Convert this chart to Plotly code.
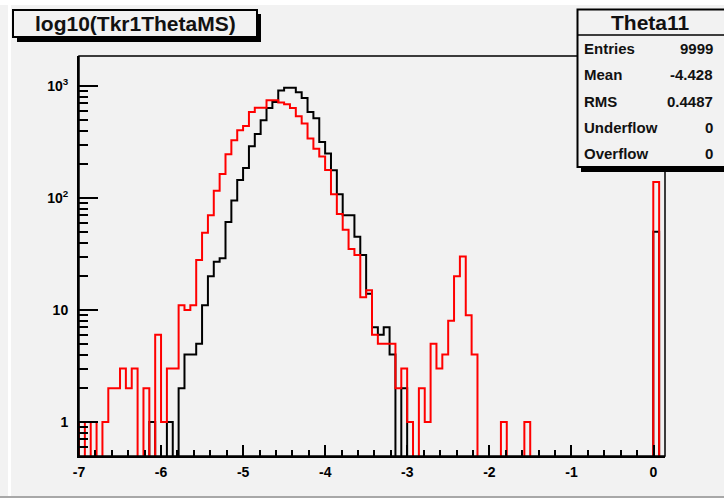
import numpy as np
import plotly.graph_objects as go

# ---------------- data ----------------
hist_title = "log10(Tkr1ThetaMS)"
x_min, x_max, n_bins = -7.0, 0.14, 100

black_counts = [0] * 12 + [1, 0, 0, 1, 0, 2, 4, 4, 5, 11, 20, 27, 29, 61, 95, 145, 185, 290,
                           373, 494, 635, 720, 910, 965, 965, 880, 780, 586, 515, 316, 250, 177,
                           108, 70, 70, 45, 31, 14, 7, 6, 7, 4, 0, 2] + [0] * 42 + [50, 0]

red_counts = [1, 0, 1, 0, 1, 2, 2, 3, 2, 3, 0, 2, 0, 6, 1, 3, 3, 11, 10, 11, 28, 49, 70, 116,
              164, 246, 328, 402, 440, 586, 638, 638, 745, 745, 712, 688, 635, 537, 462, 340,
              275, 235, 178, 108, 72, 52, 35, 31, 13, 15, 6, 5, 5, 5, 2, 3, 1, 0, 2, 1, 5, 3,
              4, 8, 20, 30, 9, 4] + [0] * 4 + [1] + [0] * 3 + [1] + [0] * 21 + [139, 0]

x_tick_values = [-7, -6, -5, -4, -3, -2, -1, 0]
x_tick_labels = ["-7", "-6", "-5", "-4", "-3", "-2", "-1", "0"]
y_tick_values = [1, 10, 100, 1000]
y_tick_labels = ["1", "10", "10<sup>2</sup>", "10<sup>3</sup>"]

stats_title = "Theta11"
stats_labels = ["Entries", "Mean", "RMS", "Underflow", "Overflow"]
stats_values = ["9999", "-4.428", "0.4487", "0", "0"]

# ---------------- geometry ----------------
W, H = 724, 503
L, R, T, B = 79, 665, 56, 456   # plot area in pixels
BG = "#f2f2f2"
FONT = "Liberation Sans"


def px(x):
    return (x - L) / (R - L)


def py(y):
    return (B - y) / (B - T)


edges = np.linspace(x_min, x_max, n_bins + 1)
floor = 1e-3


def step_xy(counts):
    c = [v if v > 0 else floor for v in counts]
    xs = [edges[0]] + list(edges[:-1]) + [edges[-1]]
    ys = [floor] + c + [floor]
    return xs, ys


fig = go.Figure()
for counts, color in [(black_counts, "black"), (red_counts, "red")]:
    xs, ys = step_xy(counts)
    fig.add_trace(go.Scatter(x=xs, y=ys, mode="lines", line=dict(color=color, width=2, shape="hv"),
                             hoverinfo="skip", showlegend=False))

x_minor = [round(v, 2) for v in np.arange(-7, x_max, 0.2) if abs(v - round(v)) > 1e-6]
y_minor = [m * 10 ** e for e in range(-1, 3) for m in range(2, 10) if 0.5 < m * 10 ** e < 1900]

tickfont = dict(family=FONT, size=14, color="black", weight="bold")

fig.update_layout(
    width=W, height=H, autosize=False,
    margin=dict(l=L, r=W - R, t=T, b=H - B),
    paper_bgcolor=BG, plot_bgcolor=BG,
    showlegend=False,
    xaxis=dict(range=[x_min, x_max], tickmode="array", tickvals=x_tick_values, ticktext=x_tick_labels,
               ticks="inside", ticklen=11, tickwidth=1.5, tickcolor="black",
               showline=True, linewidth=2, linecolor="black", showgrid=False, zeroline=False,
               tickfont=tickfont, ticklabelstandoff=2,
               minor=dict(tickmode="array", tickvals=x_minor, ticks="inside", ticklen=6,
                          tickwidth=1.5, tickcolor="black", showgrid=False)),
    yaxis=dict(type="log", range=[-0.3036, 3.268], tickmode="array", tickvals=y_tick_values,
               ticktext=y_tick_labels, ticks="inside", ticklen=19, tickwidth=1.5, tickcolor="black",
               showline=True, linewidth=2, linecolor="black", showgrid=False, zeroline=False,
               tickfont=tickfont, ticklabelstandoff=6,
               minor=dict(tickmode="array", tickvals=y_minor, ticks="inside", ticklen=9,
                          tickwidth=1.5, tickcolor="black", showgrid=False)),
)

shapes = []
# window edges
shapes.append(dict(type="rect", xref="paper", yref="paper", x0=px(-5), x1=px(W + 5), y0=py(-5), y1=py(5),
                   fillcolor="white", line=dict(width=0), layer="above"))
shapes.append(dict(type="rect", xref="paper", yref="paper", x0=px(8), x1=px(11), y0=py(5), y1=py(496),
                   fillcolor="white", line=dict(width=0), layer="above"))
shapes.append(dict(type="rect", xref="paper", yref="paper", x0=px(-5), x1=px(W + 5), y0=py(497), y1=py(H + 5),
                   fillcolor="white", line=dict(width=0), layer="above"))
shapes.append(dict(type="line", xref="paper", yref="paper", x0=px(0), x1=px(W), y0=py(497), y1=py(497),
                   line=dict(color="#a8a8a8", width=2), layer="above"))
# frame
shapes.append(dict(type="rect", xref="paper", yref="paper", x0=0, x1=1, y0=0, y1=1,
                   line=dict(color="black", width=1.5), layer="above"))
# title box with shadow
shapes.append(dict(type="rect", xref="paper", yref="paper", x0=px(17), x1=px(261), y0=py(14), y1=py(42),
                   fillcolor="black", line=dict(width=0), layer="above"))
shapes.append(dict(type="rect", xref="paper", yref="paper", x0=px(13), x1=px(257), y0=py(10), y1=py(37),
                   fillcolor=BG, line=dict(color="black", width=2), layer="above"))
# stats box with shadow
shapes.append(dict(type="rect", xref="paper", yref="paper", x0=px(581), x1=px(W + 10), y0=py(14), y1=py(172),
                   fillcolor="black", line=dict(width=0), layer="above"))
shapes.append(dict(type="rect", xref="paper", yref="paper", x0=px(577.5), x1=px(W + 10), y0=py(9.5), y1=py(167),
                   fillcolor=BG, line=dict(color="black", width=2), layer="above"))
shapes.append(dict(type="line", xref="paper", yref="paper", x0=px(577.5), x1=px(W + 10), y0=py(35), y1=py(35),
                   line=dict(color="black", width=1.5), layer="above"))
fig.update_layout(shapes=shapes)

ann = []
ann.append(dict(text=hist_title, x=px(135), y=py(24), xref="paper", yref="paper", showarrow=False,
                xanchor="center", yanchor="middle",
                font=dict(family=FONT, size=21, color="#111111", weight="bold")))
ann.append(dict(text=stats_title, x=px(650), y=py(22.5), xref="paper", yref="paper", showarrow=False,
                xanchor="center", yanchor="middle",
                font=dict(family=FONT, size=21, color="#111111", weight="bold")))
row_h = (167 - 35) / len(stats_labels)
for i, (lab, val) in enumerate(zip(stats_labels, stats_values)):
    yc = 35 + row_h * (i + 0.5)
    ann.append(dict(text=lab, x=px(582), y=py(yc), xref="paper", yref="paper", showarrow=False,
                    xanchor="left", yanchor="middle",
                    font=dict(family=FONT, size=15, color="#111111", weight="bold")))
    ann.append(dict(text=val, x=px(715), y=py(yc), xref="paper", yref="paper", showarrow=False,
                    xanchor="right", yanchor="middle",
                    font=dict(family=FONT, size=15, color="#111111", weight="bold")))
fig.update_layout(annotations=ann)

fig.write_html("out.html", config={"displayModeBar": False},
               post_script="document.body.style.margin='0px';document.body.style.padding='0px';")
